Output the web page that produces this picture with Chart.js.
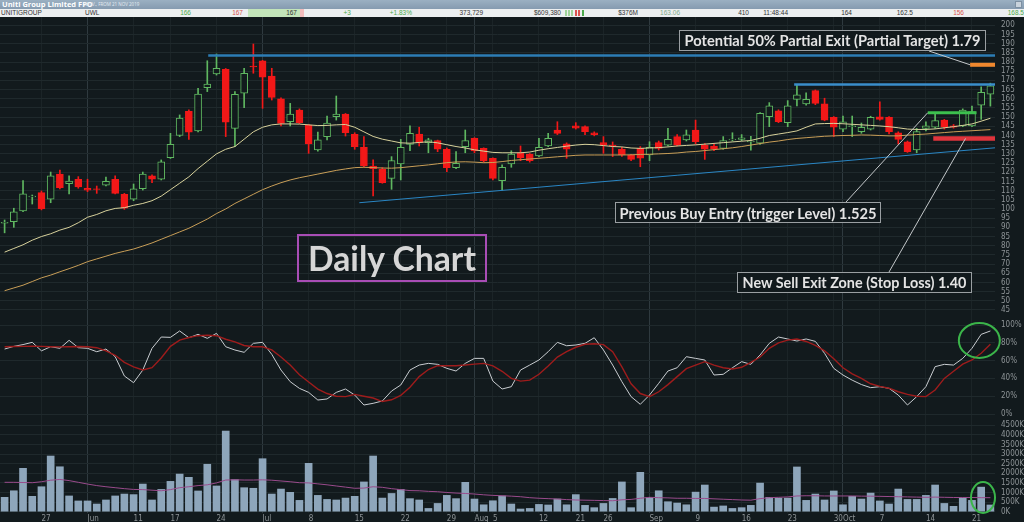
<!DOCTYPE html>
<html><head><meta charset="utf-8">
<script src="https://cdn.jsdelivr.net/npm/chart.js@4.4.1/dist/chart.umd.min.js"></script>
<style>
*{box-sizing:border-box}
html,body{margin:0;padding:0;width:1024px;height:522px;overflow:hidden;background:#121a1d}
canvas{position:absolute;left:0}
#c1{top:17px} #c2{top:318px} #c3{top:420px}
.hdr{position:absolute;left:0;width:1024px;overflow:hidden}
#tb{top:0;height:9px;background:linear-gradient(#9bb0c2,#859bb0)}
#tb .t{position:absolute;left:2px;top:0;font:bold 7.5px/9px "Open Sans",sans-serif;color:#fff;white-space:nowrap}
#tb .s{position:absolute;left:83px;top:0;font:4.5px/9px "Open Sans",sans-serif;color:#e6edf3;white-space:nowrap}
#ico{position:absolute;left:1015px;top:1px;width:7px;height:7px;background:#c9d3dc;border:1px solid #7d90a2}
#tr{top:9px;height:8px;background:#eceff0}
.v{position:absolute;top:0;font:6.5px/8px "Liberation Sans",Arial,sans-serif;color:#333;white-space:nowrap}
.cell{position:absolute;top:0;height:8px}
.mb{position:absolute;top:1px;width:2px;height:6px}
.box{position:absolute;border:1px solid #9a9fa2;background:rgba(18,26,29,0.9);color:#e4e4e4;font-family:Lato,"Open Sans",sans-serif;font-weight:bold;white-space:nowrap;display:flex;align-items:center;justify-content:center;overflow:hidden}
#daily{position:absolute;left:297px;top:234px;width:190px;height:48px;border:2px solid #a84db5;color:#d6d6d6;font-family:Lato,"Open Sans",sans-serif;font-weight:bold;white-space:nowrap;display:flex;align-items:center;justify-content:center}
</style></head>
<body>
<div class="hdr" id="tb"><span class="t">Uniti Group Limited FPO</span><span class="s">SWLV., FROM 21 NOV 2019</span><span id="ico"></span></div>
<div class="hdr" id="tr">
  <span class="cell" style="left:248px;width:52px;background:#c3e5ba"></span>
  <span class="cell" style="left:300px;width:4px;background:#f2bcbc"></span>
  <span class="v" style="left:1px">UNITIGROUP</span>
  <span class="v" style="left:85px">UWL</span>
  <span class="v" style="right:833px;color:#4caa4c">166</span>
  <span class="v" style="right:781px;color:#d9534f">167</span>
  <span class="v" style="right:727px">167</span>
  <span class="v" style="right:673px;color:#4caa4c">+3</span>
  <span class="v" style="right:612px;color:#4caa4c">+1.83%</span>
  <span class="v" style="right:541px">373,729</span>
  <span class="v" style="right:463px">$609,380</span>
  <span class="mb" style="left:565px;background:#9fd39a"></span>
  <span class="mb" style="left:568px;background:#9fd39a"></span>
  <span class="mb" style="left:571px;background:#9fd39a"></span>
  <span class="mb" style="left:575px;background:#d9534f"></span>
  <span class="mb" style="left:578px;background:#d9534f"></span>
  <span class="mb" style="left:582px;background:#4caa4c"></span>
  <span class="v" style="right:386px">$376M</span>
  <span class="v" style="right:344px;color:#7fa98a">163.06</span>
  <span class="v" style="right:275px">410</span>
  <span class="v" style="right:236px">11:48:44</span>
  <span class="v" style="right:172px">164</span>
  <span class="v" style="right:111px">162.5</span>
  <span class="v" style="right:60px;color:#d9534f">156</span>
  <span class="v" style="right:0px;color:#4caa4c">168.5</span>
</div>
<canvas id="c1" width="1024" height="301"></canvas>
<canvas id="c2" width="1024" height="102"></canvas>
<canvas id="c3" width="1024" height="102"></canvas>
<div class="box" data-w="296" style="left:679px;top:30px;width:307px;height:21px"><span>Potential 50% Partial Exit (Partial Target) 1.79</span></div>
<div class="box" data-w="257" style="left:615px;top:202px;width:266px;height:21px"><span>Previous Buy Entry (trigger Level) 1.525</span></div>
<div class="box" data-w="224" style="left:737px;top:272px;width:235px;height:21px"><span>New Sell Exit Zone (Stop Loss) 1.40</span></div>
<div id="daily" data-w="168"><span>Daily Chart</span></div>
<script>
// ---------------- DATA ----------------
const dateLabels = {4:"27",9:"Jun",14:"11",18:"17",23:"24",28:"Jul",33:"8",38:"15",43:"22",48:"29",51:"Aug",53:"5",58:"12",62:"21",65:"26",70:"Sep",75:"9",80:"16",85:"23",90:"30",91:"Oct",95:"7",100:"14",105:"21"};
const monthStarts = [9,28,51,70,91];
const opens = [92.3,93.1,98.9,106.5,108.9,105.3,119,113.8,116.2,111.3,111,112.9,116.2,108,105.4,111,118,116.2,128,140,153.2,142.5,166,173.5,176,143.9,163,177.8,180.7,172.4,159.9,147.5,153.9,145.7,132.1,139.4,150.2,151.7,140.7,133.6,123.4,121.6,116.7,124.5,135.2,140.8,136.1,137.2,132.5,122.5,133.9,138.5,133,127.6,115.4,124.5,130.6,129.9,128.9,134.3,143,135.4,145.2,144.8,141.5,136.1,134.8,132.5,129.4,133,129.4,136.1,134.8,139.4,137.6,143,134.8,134.3,133,137.6,137.9,136.5,135.8,150.2,153.5,147,159.7,157.2,164.4,157.2,149.9,143.4,144.8,142.1,143.4,150.2,149.9,141.5,136.6,132.1,143.9,144.5,148.4,145.2,145.2,145.2,156.5,162.5];
const highs = [94,100.4,115.4,107.6,109.8,120.1,121.2,118,117.6,116.2,112.5,117.3,118,108.5,113.6,120.1,118.6,126.7,141.2,151.2,154,165.7,180.7,184.4,176.5,163.9,176.6,189.8,180.9,176.6,160.5,157.5,154.5,146,141.8,150.6,161.5,152,141.5,139.4,126.7,122.5,128.5,137.9,145.2,144.5,138.5,137.5,133.2,131.2,143,138.8,133.3,127.9,124,131.7,134.3,130.2,138.5,141.2,147.5,136,147,145.2,142,139.4,136.5,133.5,129.8,134,136.6,137,143.9,140.5,143,148.4,135.6,135.3,139.4,141.5,140.5,139.5,152.5,157.9,154,159,167.5,163.3,164.8,160.3,150.3,150.6,150.6,146.8,150.5,158.4,150.3,142,137,143.9,147.5,152.1,148.8,146,154.5,156,166.5,168.5];
const lows = [87,90,98.5,102.7,99.5,103.4,110.9,108.2,111.3,109.4,108.5,112.5,108.2,99.8,104.5,110.3,114.3,115.8,127.5,139.4,137.9,142,163.9,172.9,139.4,133.9,155.1,173.9,154.8,159.3,145.2,145.2,146.5,130.3,131.5,137.6,148.4,139.7,132.5,123,107.1,114,110.7,115.8,131.7,134.3,130.6,131.2,120.3,122,130.6,130.6,125.5,115.8,110.3,122.7,126.3,125.5,128.5,133.9,140.5,127.6,143.5,140.5,139.8,130.3,128.5,128.6,126.3,123,126.3,132.1,134.3,134.3,137,135.4,127,131.8,132.5,137,137.2,132,135.2,144.8,147,144.8,156.1,156.5,156.8,148,139.4,142.1,139.4,141.2,143,148.4,140.8,135.4,130.8,130.6,142.5,144,143.5,144,144.8,144.8,148.8,156];
const closes = [92.7,98.5,108.2,107,100.2,118,111.6,115.2,112,110.2,110.6,115.1,108.5,100.4,111,119,116.2,125.6,135.2,149.5,141.8,162.6,168,176.6,147.2,162.4,173.9,177.3,171.7,160.8,146.6,151.7,147,135.4,137.6,146.7,151.7,141.5,133.9,123.4,121.9,114.3,126.3,133.6,141.2,136.1,137.6,132.5,122.5,124.8,137.2,131.6,126.1,116.7,122.7,129.9,127.9,126.3,133.6,138.5,141.2,132.5,144,142.1,140.4,134.8,134.3,129.4,127,127.6,133.6,133,137.9,134.8,140.3,136.6,132.5,132.7,137.2,138,138.8,137,152.1,156.1,147.5,156.1,162.1,159.7,157.5,148.4,144.5,147.5,145.3,144.5,149.9,148.8,142.1,137.9,131.2,142.1,145.2,148.1,144.5,144.6,153.9,153,163.5,167];
const fastMA = [76.5,78.5,80.5,83,85,86.5,88.5,90,92.5,95.5,97,99,100.3,100.7,102,103,104.5,107,110.5,114,117.5,122,126,130,132.5,134,138,142,144.5,145.8,146.3,146.3,146.2,145.8,145.4,145.5,145.8,146,144.5,142,139.5,138,137,136,135.8,136.2,136.6,136,135,134,133.2,132.2,131.5,130.8,130.6,130.6,130.6,131,132,132.8,133.5,134.2,134.8,135.2,135,134.5,134,133.8,133.2,133,133.2,133.4,133.8,134.3,134.6,134.9,135.3,135.7,136.1,136.5,136.9,137.3,138.5,140,140.8,141.6,142.5,144.5,146.3,146.5,146.6,146.4,146.1,145.8,145.5,145.2,144.8,144.2,143.5,143.3,143.3,143.6,144.2,144.8,145.5,146.3,147.8,149.4];
const slowMA = [55.5,57,58.5,60.5,62.5,64,65.8,67.5,69.3,71.3,72.8,74.3,75.8,77,78.2,79.8,81.5,83.5,85.5,87.5,89.5,92,94.5,97.5,100,103,105.5,108,110.5,112.5,114.3,115.8,117,118,119,120,121,121.8,122.5,122.7,122.5,122.3,122.2,122.5,123,123.5,124,124.6,125.2,125.6,125.7,125.5,125.2,125.3,125.8,126.4,126.8,127.2,127.6,128,128.4,128.8,129.2,129.4,129.4,129.4,129.4,129.4,129.5,129.7,129.8,130,130.2,130.5,131,131.3,131.8,132.3,132.8,133.3,134,134.8,135.6,136.4,137,137.8,138.4,138.8,139.2,139.6,139.8,140,140.1,140.3,140.2,140,139.8,139.8,140.2,140.5,140.8,141.2,141.6,142,142.3,142.6,142.9,143.2];
const stochK = [73,76,78,80.5,71,75.6,73.8,82.8,74.5,73.8,70,73,64.4,42.7,35.2,49.4,73.8,86.5,86.1,93.3,85.7,89.5,85,90.6,75.6,71.9,69.3,79.4,80.5,67,49.4,36.3,28.8,24.3,15.7,16.9,24.3,28.1,21.3,10.1,12,14.6,25.8,32.6,49.4,55,56.9,55.8,51.3,48.3,56.9,62.5,62.5,37,28.1,30.7,49.4,55,60.7,70,80.5,76.7,77.5,79.4,85.7,71.9,55,36.3,19.5,10.9,21.3,34.5,48.3,52,64.4,62.5,60.7,43.8,44.6,52,58.8,55.8,66.3,79.4,86.5,84.3,82,84.3,81.6,68.2,51.3,43.8,38,33.1,29.6,30.7,28.8,21.3,10.1,19.5,30.7,53.2,55.8,55,62.5,73.8,89.5,93.3];
const stochD = [75.6,75.8,76,76.2,76,75.6,75.4,75.6,75.8,75.6,74.5,71,66,58,53,49.5,52,63,76,83,86,88,88.5,88,84,81,77,75.6,75.6,72,64,55,44,36,28,23,20,19.5,22,20,18,14,16,21,30,42,50,54.3,54.3,54.3,55,56,56.9,54,48,40,37,38,44.6,54,64,70,75,78.3,79,78,70,53,34,23,19.5,25,33,42,51,55,58.8,55,52,50.6,52.5,58,64,73.8,80,83,84.3,81.5,77,71,62,52,45,40,34,31,29,25,22,20,19.5,27,40,48,56,60.7,68.2,78.3];
const volumeK = [750,1090,2260,800,1300,2900,2340,820,560,560,400,610,820,920,890,1440,610,1160,1580,1960,1790,1080,2470,1340,4200,1670,1250,1220,2760,920,1180,1010,590,2520,850,640,610,710,800,1550,2900,710,950,1160,680,610,170,430,850,680,1530,660,360,570,820,400,140,170,380,350,660,360,890,330,210,430,690,1550,210,2050,750,1090,520,450,360,1020,1390,240,300,170,210,330,1490,750,710,710,2330,590,920,610,1080,360,800,660,970,560,400,1180,640,640,850,1390,430,280,710,590,1280,350];
const volumeMA = [1530,1530,1520,1510,1560,1640,1680,1620,1530,1440,1360,1300,1250,1200,1160,1150,1120,1090,1150,1250,1300,1360,1400,1500,1650,1660,1650,1650,1660,1640,1600,1560,1510,1500,1450,1400,1340,1280,1220,1230,1300,1270,1200,1150,1100,1090,1060,1040,1000,970,950,920,880,850,830,810,780,730,700,680,660,630,610,600,590,580,570,620,640,700,750,730,720,700,700,690,690,670,650,630,610,600,680,730,750,770,820,830,830,820,820,820,820,810,810,800,790,780,770,760,750,760,750,740,740,740,730,730];
const priceTicks = [45,50,55,60,65,70,75,80,85,90,95,100,105,110,115,120,125,130,135,140,145,150,155,160,165,170,175,180,185,190,195,200];
const stochTicks = [0,20,40,60,80,100];
const volumeTicks = [0,500,1000,1500,2000,2500,3000,3500,4000,4500];
// horizontal levels drawn on the price panel: [price, first bar, last bar]
const levelPrices = [183.6,167.8,178.5,138.4,152.4];
const levelFromBar = [22.1,85.7,104.8,100.8,100.2];
const levelToBar = [107.5,107.5,107.5,107.5,105.5];
// support trend line: [bar, price] at both ends
const trendStart = [38.5,103.4];
const trendEnd = [107.5,133.3];
// where the callout pointers touch the levels: [level index, bar]
const pointerTargets = [[2,104.8],[4,100.2],[3,104.3]];
// highlighted points (green circles): [bar, value]
const stochCircle = [105.8,82.6];
const volumeCircle = [106.2,740];

// ---------------- STYLE ----------------
const BG = '#121a1d';
const UP = '#5fb760', DOWN = '#f21818';
const levelColors = ['#2c7db5','#3a8ecb','#f0882e','#e0343c','#3cc04e'];
const levelWidths = [2.5,2.5,4,4.5,3];
const pointerStarts = [[929,34],[846,185],[889,255]]; // canvas px (price canvas)
const TICKFONT = {family:'"Liberation Sans Narrow","DejaVu Sans Condensed","Liberation Sans",sans-serif', size:8};
const TICKCOLOR = '#8d9396';
const N = opens.length;
const labels = Array.from({length:N},(_,i)=>dateLabels[i]||'');

function xGrid(c){
  const i = c.index;
  if (monthStarts.includes(i)) return '#2f3a3f';
  return labels[i] ? '#1b2427' : 'rgba(0,0,0,0)';
}
function xScale(showTicks, h){
  return {type:'category', labels, offset:true, display:true,
    grid:{offset:false, color:xGrid, drawTicks:false, lineWidth:1},
    border:{display:false},
    ticks:{display:showTicks, autoSkip:false, maxRotation:0, minRotation:0, align:'start', padding:1, color:TICKCOLOR, font:TICKFONT},
    afterFit:s=>{s.height=h; s.paddingLeft=0; s.paddingRight=0;}};
}
function yScale(min,max,ticks,fmt){
  return {position:'right', min, max,
    afterBuildTicks:s=>{s.ticks=ticks.map(v=>({value:v}));},
    afterFit:s=>{s.width=29; s.paddingTop=0; s.paddingBottom=0;},
    grid:{color:'#1f292c', drawTicks:false, lineWidth:1},
    border:{display:false},
    ticks:{autoSkip:false, color:TICKCOLOR, font:TICKFONT, padding:6, callback:fmt}};
}
const common = {responsive:false, animation:false, maintainAspectRatio:false,
  layout:{padding:0}, events:[],
  plugins:{legend:{display:false}, tooltip:{enabled:false}}};

function fx(x, f){ const x0=x.getPixelForValue(0), st=x.getPixelForValue(1)-x0; return x0+f*st; }

const upDown = closes.map((c,i)=>c>=opens[i]);

const priceLevels = {
  id:'priceLevels',
  afterDatasetsDraw(chart){
    const {ctx, scales:{x,y}} = chart;
    ctx.save();
    ctx.strokeStyle='#2a86c4'; ctx.lineWidth=1;
    ctx.beginPath();
    ctx.moveTo(fx(x,trendStart[0]), y.getPixelForValue(trendStart[1]));
    ctx.lineTo(fx(x,trendEnd[0]), y.getPixelForValue(trendEnd[1]));
    ctx.stroke();
    levelPrices.forEach((p,k)=>{
      ctx.strokeStyle=levelColors[k]; ctx.lineWidth=levelWidths[k];
      const yy=y.getPixelForValue(p);
      ctx.beginPath(); ctx.moveTo(fx(x,levelFromBar[k]),yy); ctx.lineTo(fx(x,levelToBar[k]),yy); ctx.stroke();
    });
    ctx.strokeStyle='#c4c8ca'; ctx.lineWidth=1;
    pointerTargets.forEach((t,k)=>{
      ctx.beginPath(); ctx.moveTo(pointerStarts[k][0],pointerStarts[k][1]);
      ctx.lineTo(fx(x,t[1]), y.getPixelForValue(levelPrices[t[0]])); ctx.stroke();
    });
    ctx.restore();
  }
};
function circlePlugin(pt, rx, ry){
  return {id:'circle', afterDatasetsDraw(chart){
    const {ctx, scales:{x,y}} = chart;
    ctx.save(); ctx.strokeStyle='#3bb54a'; ctx.lineWidth=2;
    ctx.beginPath(); ctx.ellipse(fx(x,pt[0]), y.getPixelForValue(pt[1]), rx, ry, 0, 0, Math.PI*2); ctx.stroke();
    ctx.restore();
  }};
}

new Chart(document.getElementById('c1'), {
  type:'bar',
  data:{labels, datasets:[
    {type:'line', data:fastMA, borderColor:'#d8d29c', borderWidth:1, pointRadius:0, tension:0, order:1},
    {type:'line', data:slowMA, borderColor:'#c99f58', borderWidth:1, pointRadius:0, tension:0, order:1},
    {type:'bar', data:opens.map((o,i)=>[o,closes[i]]), grouped:false, barThickness:7, borderWidth:1, borderSkipped:false,
      backgroundColor:upDown.map(u=>u?BG:DOWN), borderColor:upDown.map(u=>u?UP:DOWN), order:2},
    {type:'bar', data:lows.map((l,i)=>[l,highs[i]]), grouped:false, barThickness:1, borderWidth:0,
      backgroundColor:upDown.map(u=>u?UP:DOWN), order:3}
  ]},
  options:{...common, scales:{x:xScale(false,0), y:yScale(40.64,204.52,priceTicks,v=>String(v))}},
  plugins:[priceLevels]
});

new Chart(document.getElementById('c2'), {
  type:'line',
  data:{labels, datasets:[
    {data:stochD, borderColor:'#9e1c1c', borderWidth:1.4, pointRadius:0, tension:0},
    {data:stochK, borderColor:'#c9cdd1', borderWidth:1, pointRadius:0, tension:0}
  ]},
  options:{...common, scales:{x:xScale(false,0), y:yScale(-6.74,107.87,stochTicks,v=>v+'%')}},
  plugins:[circlePlugin(stochCircle,20.5,17.5)]
});

new Chart(document.getElementById('c3'), {
  type:'bar',
  data:{labels, datasets:[
    {type:'line', data:volumeMA, borderColor:'#9a4b8c', borderWidth:1, pointRadius:0, tension:0, order:1},
    {type:'bar', data:volumeK, backgroundColor:'#8ea6bb', barThickness:7, order:2}
  ]},
  options:{...common, scales:{x:xScale(true,9), y:yScale(-67.7,4776,volumeTicks,v=>v+'K')}},
  plugins:[circlePlugin(volumeCircle,12,15.5)]
});

// fit callout text to the widths of the original boxes
function fitText(){
  document.querySelectorAll('[data-w]').forEach(el=>{
    const sp=el.querySelector('span');
    sp.style.fontSize='20px';
    const w=sp.getBoundingClientRect().width;
    sp.style.fontSize=(20*(+el.dataset.w)/w).toFixed(2)+'px';
  });
}
fitText();
if (document.fonts && document.fonts.ready) document.fonts.ready.then(fitText);
</script>
</body></html>
